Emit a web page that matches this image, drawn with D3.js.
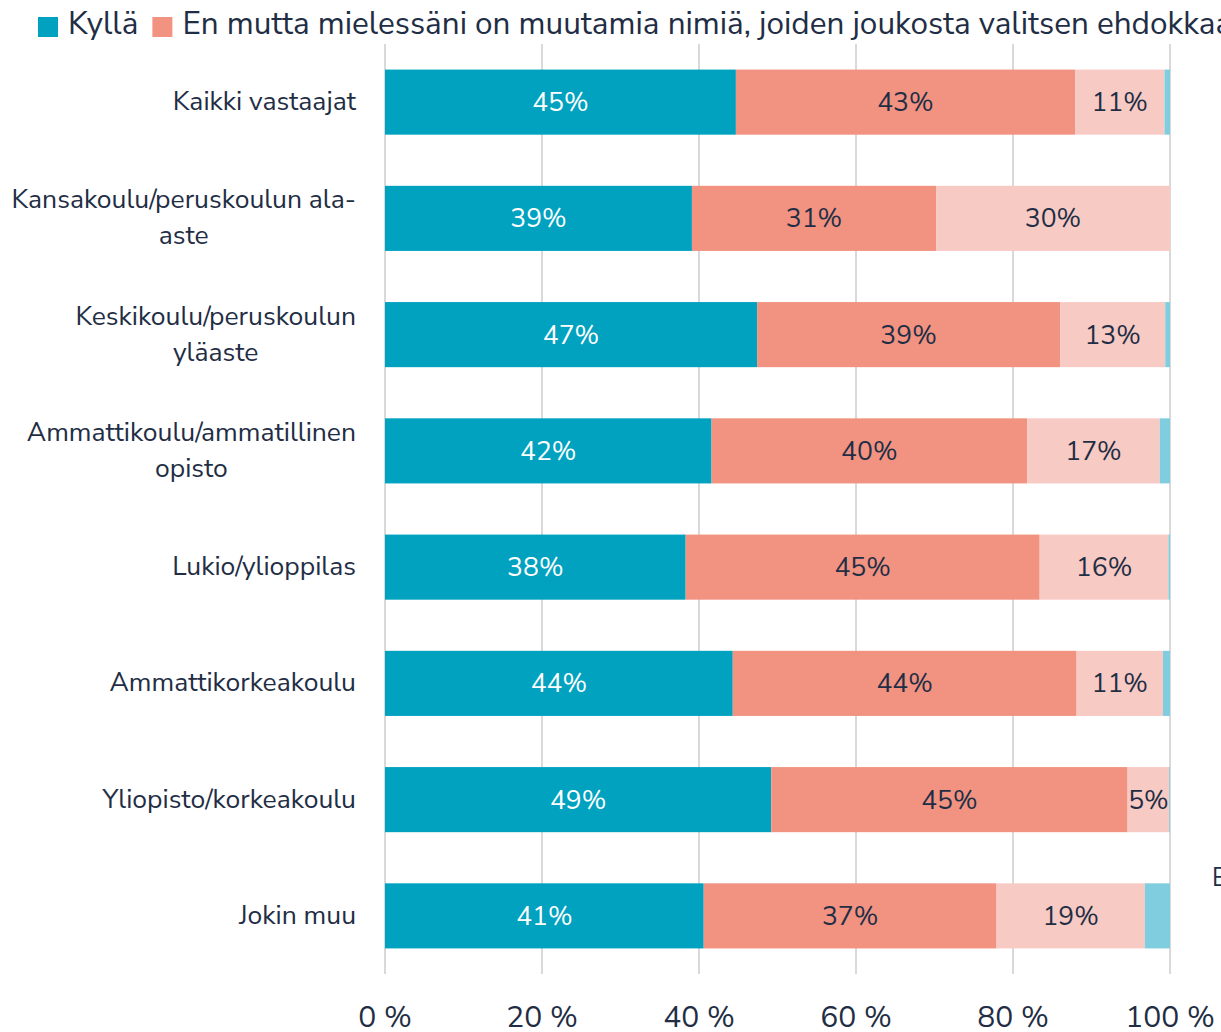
<!DOCTYPE html>
<html><head><meta charset="utf-8">
<script src="https://cdn.jsdelivr.net/npm/d3@7"></script>
<style>
html,body{margin:0;padding:0;background:#fff;overflow:hidden;}
svg{display:block;font-family:"Nunito Sans",Lato,"Open Sans",sans-serif;}
</style></head>
<body><svg id="c" width="1221" height="1032"></svg>
<script>
const categories = [
  ["Kaikki vastaajat"],
  ["Kansakoulu/peruskoulun ala-","aste"],
  ["Keskikoulu/peruskoulun","yläaste"],
  ["Ammattikoulu/ammatillinen","opisto"],
  ["Lukio/ylioppilas"],
  ["Ammattikorkeakoulu"],
  ["Yliopisto/korkeakoulu"],
  ["Jokin muu"]
];
const seriesKylla  = [44.7, 39.1, 47.4, 41.6, 38.3, 44.3, 49.2, 40.6];
const seriesEnMutta= [43.2, 31.1, 38.6, 40.2, 45.1, 43.8, 45.4, 37.3];
const seriesPink   = [11.4, 29.8, 13.4, 16.9, 16.4, 11.0, 5.3, 18.9];
const seriesBlue   = [0.7, 0.0, 0.6, 1.3, 0.2, 0.9, 0.1, 3.2];
const legendLabels = ["Kyllä", "En mutta mielessäni on muutamia nimiä, joiden joukosta valitsen ehdokkaan"];
const tickValues = [0, 20, 40, 60, 80, 100];
const tickLabels = ["0 %", "20 %", "40 %", "60 %", "80 %", "100 %"];
const colors = ["#00A2BF", "#F29382", "#F8CAC4", "#80CDE0"];
const textDark = "#1F2E45";

const svg = d3.select("#c");
const x = d3.scaleLinear().domain([0, 100]).range([385, 1170]);
const y = d3.scaleBand().domain(d3.range(categories.length)).range([44, 974]).paddingInner(0.44).paddingOuter(0.22);

// gridlines
svg.append("g").selectAll("line").data(tickValues).join("line")
  .attr("x1", d => x(d)).attr("x2", d => x(d))
  .attr("y1", 44).attr("y2", 974)
  .attr("stroke", "#D9D9D9").attr("stroke-width", 2);

// stacked data
const series = [seriesKylla, seriesEnMutta, seriesPink, seriesBlue];
const rows = categories.map((c, i) => {
  let acc = 0;
  return series.map((s, k) => { const v = s[i]; const seg = {i, k, x0: acc, x1: acc + v, v}; acc += v; return seg; });
});
const segs = rows.flat();

svg.append("g").selectAll("rect").data(segs).join("rect")
  .attr("x", d => x(d.x0)).attr("width", d => Math.max(0, x(d.x1) - x(d.x0)))
  .attr("y", d => y(d.i)).attr("height", y.bandwidth())
  .attr("fill", d => colors[d.k]);

// bar labels
svg.append("g").selectAll("text").data(segs.filter(d => d.k < 3 && d.v > 0)).join("text")
  .attr("x", d => (x(d.x0) + x(d.x1)) / 2)
  .attr("y", d => y(d.i) + y.bandwidth() / 2 + 9)
  .attr("text-anchor", "middle")
  .attr("font-size", 26.5)
  .attr("fill", d => d.k === 0 ? "#FFFFFF" : textDark)
  .text(d => Math.round(d.v) + "%");

// category labels
const catFont = 26.5;
const cat = svg.append("g");
categories.forEach((lines, i) => {
  const cy = y(i) + y.bandwidth() / 2;
  const lh = 36;
  const g = cat.append("g");
  const t = g.append("text").attr("font-size", catFont).attr("fill", textDark);
  if (lines.length === 1) {
    t.attr("x", 356).attr("y", cy + 8).attr("text-anchor", "end").text(lines[0]);
  } else {
    const tmp = g.append("text").attr("font-size", catFont).text(lines[0]);
    const w = tmp.node().getComputedTextLength();
    tmp.remove();
    const cx = 356 - w / 2;
    lines.forEach((ln, j) => {
      t.append("tspan").attr("x", cx).attr("y", cy + 8 + (j - (lines.length - 1) / 2) * lh)
        .attr("text-anchor", "middle").text(ln);
    });
  }
});

// x-axis tick labels
svg.append("g").selectAll("text").data(tickValues).join("text")
  .attr("x", d => x(d)).attr("y", 1027)
  .attr("text-anchor", "middle").attr("font-size", 30).attr("fill", textDark)
  .text((d, i) => tickLabels[i]);

// legend
const leg = svg.append("g");
let lx = 38;
legendLabels.forEach((lab, k) => {
  leg.append("rect").attr("x", lx).attr("y", 17).attr("width", 20).attr("height", 20).attr("fill", colors[k]);
  const t = leg.append("text").attr("x", lx + 30).attr("y", 34).attr("font-size", 31.5).attr("fill", textDark).text(lab);
  lx += 30 + t.node().getComputedTextLength() + 14;
});

// clipped text fragment at right edge
svg.append("text").attr("x", 1212).attr("y", 886).attr("font-size", 25).attr("fill", textDark).text("E");
</script></body></html>
